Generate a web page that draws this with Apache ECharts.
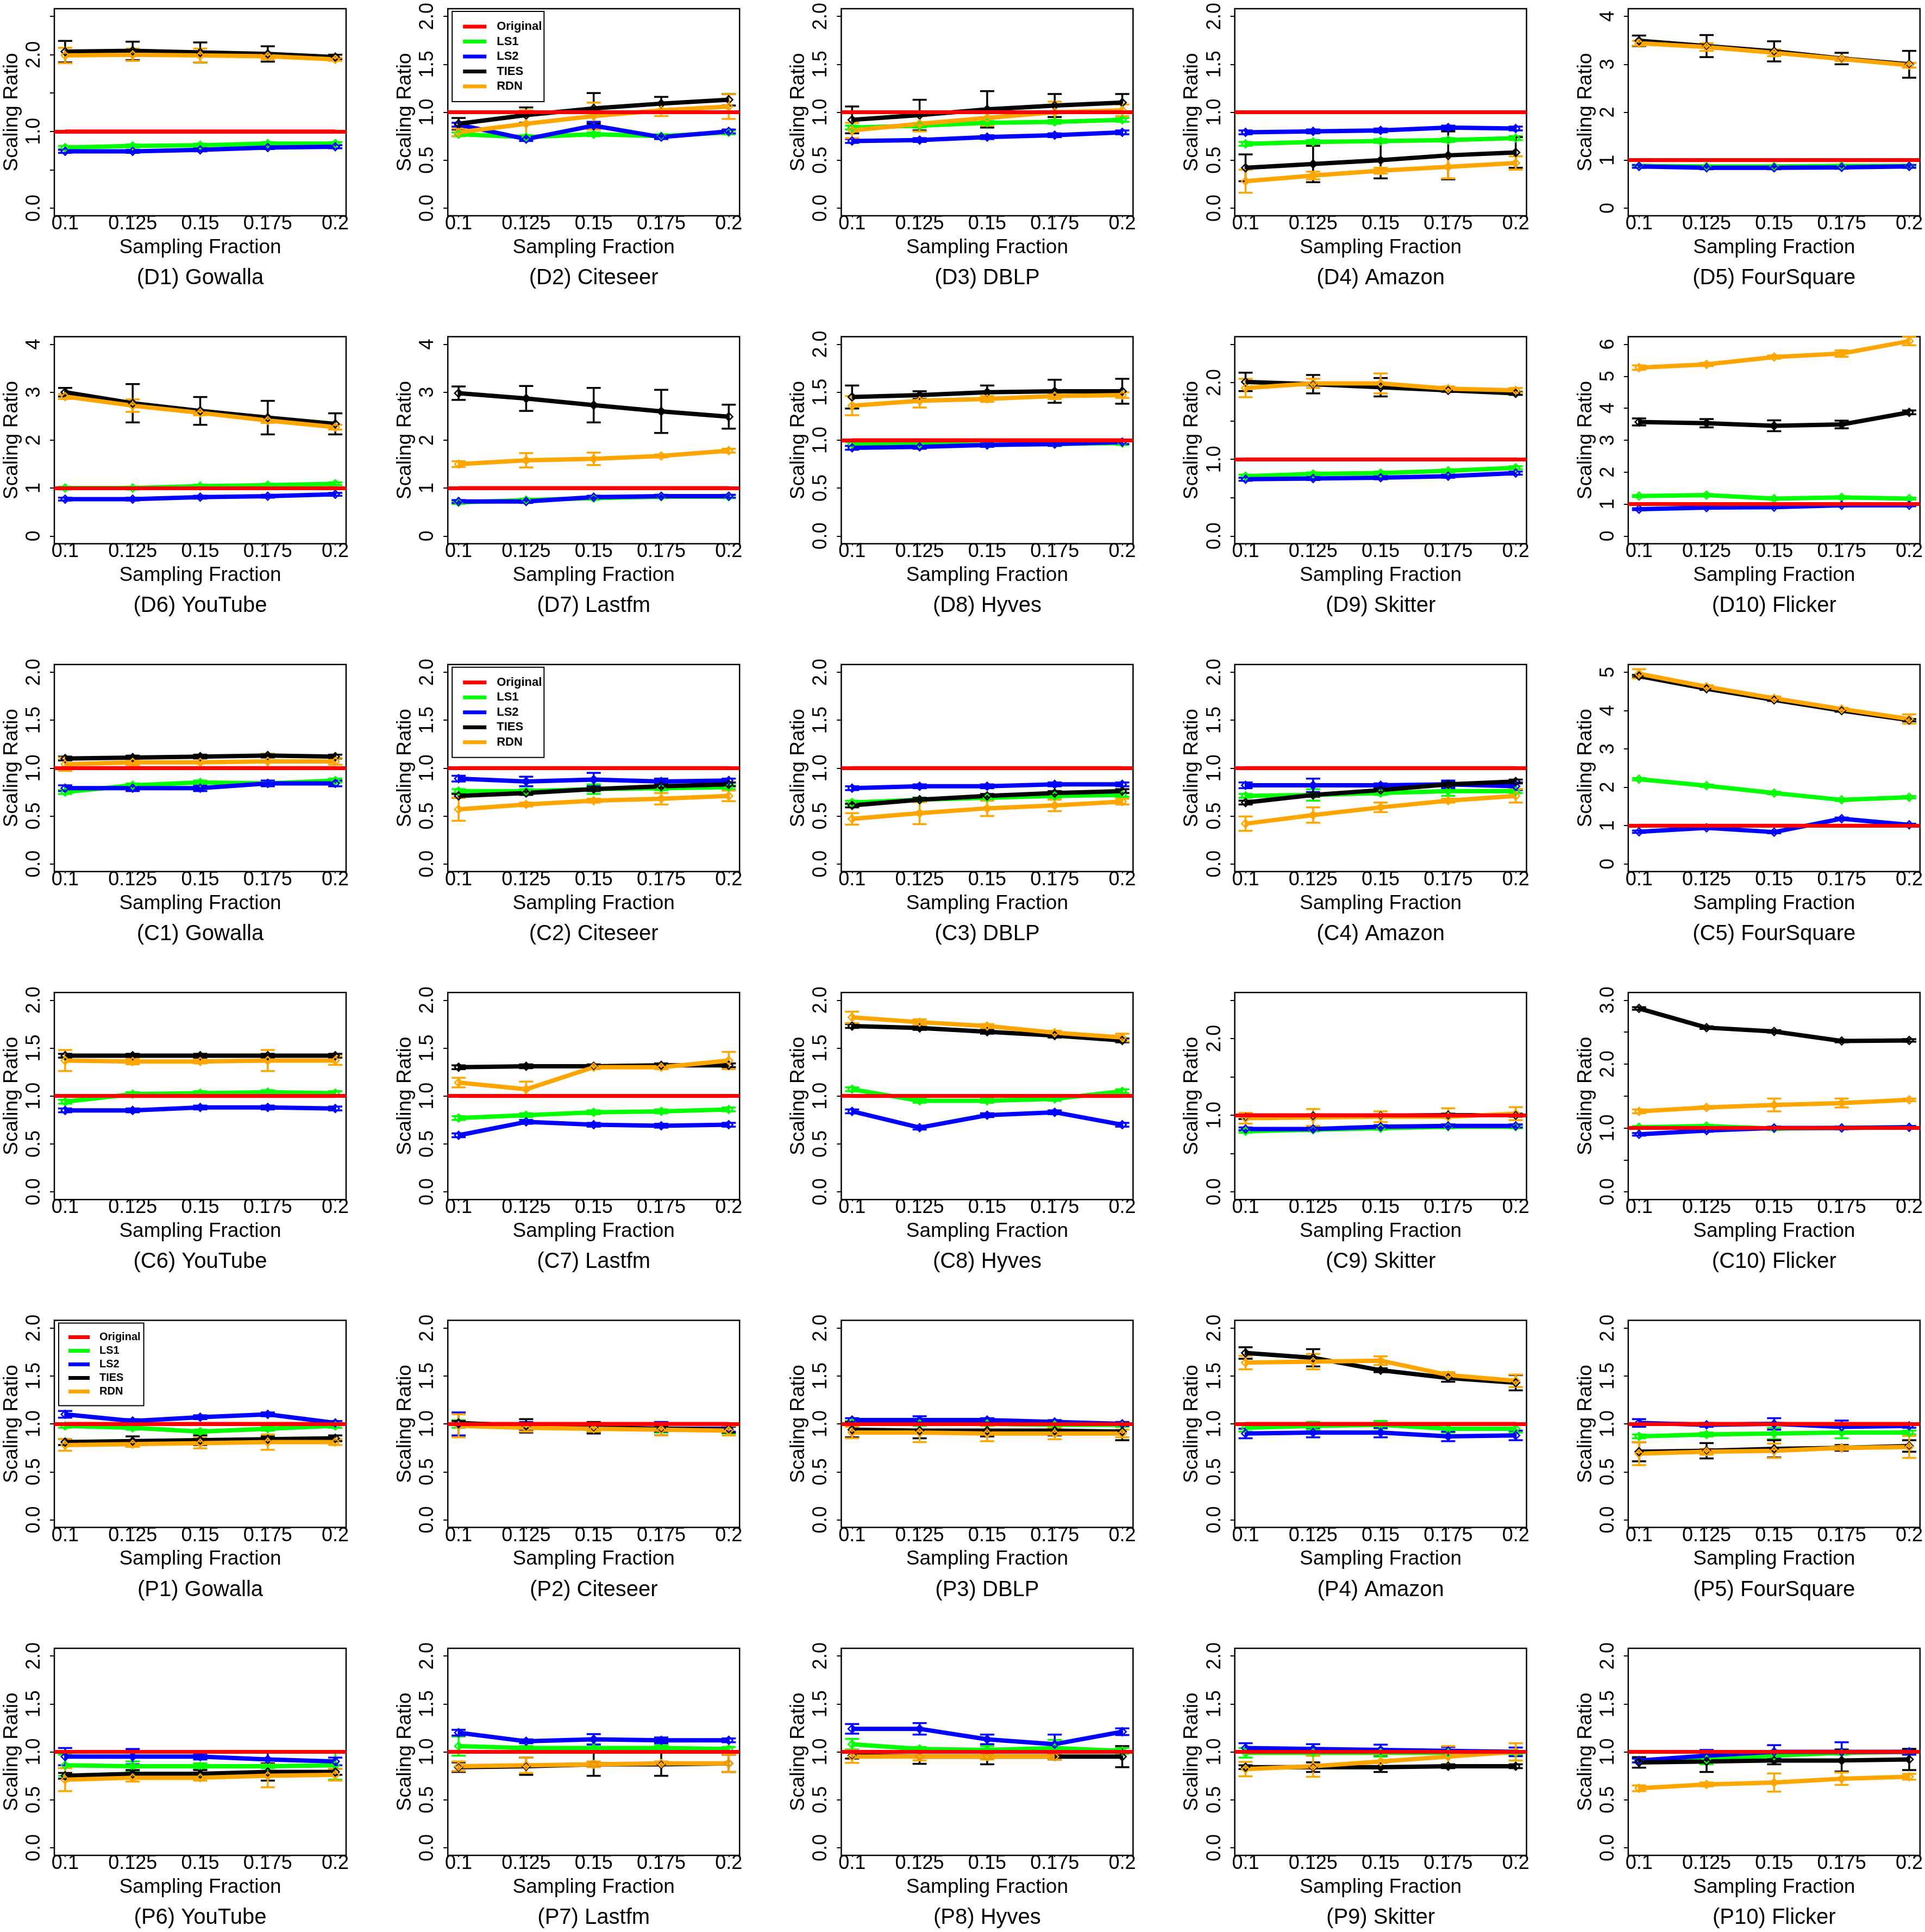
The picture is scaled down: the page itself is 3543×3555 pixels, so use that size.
<!DOCTYPE html>
<html><head><meta charset="utf-8">
<script src="https://cdn.jsdelivr.net/npm/echarts@6/dist/echarts.min.js"></script>
<style>html,body{margin:0;padding:0;background:#fff}#c{width:3543px;height:3555px}</style>
</head><body><div id="c"></div>
<script>
// ---------------- DATA ----------------
const X = [0.1, 0.125, 0.15, 0.175, 0.2];
const X_TICK_LABELS = ['0.1', '0.125', '0.15', '0.175', '0.2'];
const SERIES_NAMES = ['Original', 'LS1', 'LS2', 'TIES', 'RDN'];
const PANEL_TITLES = [
  '(D1) Gowalla','(D2) Citeseer','(D3) DBLP','(D4) Amazon','(D5) FourSquare',
  '(D6) YouTube','(D7) Lastfm','(D8) Hyves','(D9) Skitter','(D10) Flicker',
  '(C1) Gowalla','(C2) Citeseer','(C3) DBLP','(C4) Amazon','(C5) FourSquare',
  '(C6) YouTube','(C7) Lastfm','(C8) Hyves','(C9) Skitter','(C10) Flicker',
  '(P1) Gowalla','(P2) Citeseer','(P3) DBLP','(P4) Amazon','(P5) FourSquare',
  '(P6) YouTube','(P7) Lastfm','(P8) Hyves','(P9) Skitter','(P10) Flicker'
];
const Y_MAX = [2.5,2,2,2,4, 4,4,2,2.5,6, 2,2,2,2,5, 2,2,2,2.5,3, 2,2,2,2,2, 2,2,2,2,2];
const Y_STEP = [0.5,0.5,0.5,0.5,1, 1,1,0.5,0.5,1, 0.5,0.5,0.5,0.5,1, 0.5,0.5,0.5,0.5,0.5, 0.5,0.5,0.5,0.5,0.5, 0.5,0.5,0.5,0.5,0.5];
const L05 = ['0.0','0.5','1.0','1.5','2.0'];
const Y_TICK_LABELS = [
  ['0.0','1.0','2.0'], L05, L05, L05, ['0','1','2','3','4'],
  ['0','1','2','3','4'], ['0','1','2','3','4'], L05, ['0.0','1.0','2.0'], ['0','1','2','3','4','5','6'],
  L05, L05, L05, L05, ['0','1','2','3','4','5'],
  L05, L05, L05, ['0.0','1.0','2.0'], ['0.0','1.0','2.0','3.0'],
  L05, L05, L05, L05, L05,
  L05, L05, L05, L05, L05
];
const ORIGINAL = [1, 1, 1, 1, 1];

const LS1 = [
  [0.79,0.81,0.82,0.84,0.84],[0.77,0.74,0.77,0.75,0.79],[0.84,0.86,0.89,0.90,0.92],[0.67,0.69,0.70,0.71,0.73],[0.88,0.87,0.87,0.88,0.88],
  [1.00,1.00,1.04,1.06,1.09],[0.70,0.75,0.79,0.82,0.82],[0.96,0.96,0.95,0.96,0.97],[0.78,0.81,0.82,0.85,0.89],[1.25,1.28,1.17,1.21,1.17],
  [0.75,0.82,0.85,0.84,0.87],[0.76,0.76,0.78,0.79,0.80],[0.64,0.67,0.69,0.71,0.72],[0.71,0.72,0.74,0.76,0.76],[2.21,2.04,1.85,1.67,1.74],
  [0.94,1.02,1.03,1.04,1.03],[0.77,0.80,0.83,0.84,0.86],[1.07,0.95,0.95,0.97,1.05],[0.79,0.81,0.83,0.85,0.85],[1.01,1.03,0.99,1.00,1.01],
  [0.98,0.96,0.92,0.95,0.98],[1.00,0.98,0.95,0.95,0.94],[1.01,1.00,1.00,0.99,0.99],[0.96,0.98,0.99,0.95,0.95],[0.87,0.89,0.90,0.91,0.91],
  [0.86,0.85,0.85,0.85,0.86],[1.06,1.04,1.04,1.04,1.03],[1.08,1.03,1.02,1.04,1.01],[0.99,0.99,0.99,0.99,0.99],[0.91,0.92,0.96,0.99,1.00]
];
const LS1_ERR = [
  [.02,.02,.02,.02,.02],[.02,.02,.02,.02,.02],[.02,.02,.02,.02,.02],[.02,.02,.02,.02,.02],[.02,.02,.02,.02,.02],
  [.03,.03,.03,.03,.03],[.03,.03,.03,.03,.03],[.02,.02,.02,.02,.02],[.02,.02,.02,.02,.02],[.03,.03,.03,.03,.03],
  [.02,.02,.02,.02,.02],[.02,.02,.05,.02,.02],[.02,.02,.02,.02,.02],[.02,.06,.02,.05,.02],[.03,.03,.03,.03,.03],
  [.02,.02,.02,.02,.02],[.02,.02,.02,.02,.02],[.02,.02,.02,.02,.02],[.02,.02,.02,.02,.02],[.02,.02,.02,.02,.02],
  [.02,.02,.02,.02,.02],[.04,.04,.04,.04,.04],[.02,.02,.02,.02,.02],[.04,.04,.04,.04,.04],[.02,.02,.06,.06,.02],
  [.11,.05,.03,.02,.15],[.10,.02,.04,.03,.02],[.055,.02,.04,.085,.03],[.05,.03,.04,.02,.02],[.02,.05,.02,.02,.02]
];
const LS2 = [
  [0.74,0.74,0.76,0.79,0.80],[0.87,0.72,0.86,0.74,0.80],[0.70,0.71,0.74,0.76,0.79],[0.79,0.80,0.81,0.84,0.83],[0.87,0.84,0.84,0.85,0.87],
  [0.77,0.77,0.81,0.83,0.87],[0.72,0.72,0.81,0.83,0.83],[0.92,0.93,0.95,0.96,0.98],[0.74,0.75,0.76,0.78,0.82],[0.84,0.89,0.90,0.96,0.96],
  [0.79,0.79,0.79,0.84,0.84],[0.89,0.86,0.88,0.86,0.87],[0.79,0.81,0.81,0.83,0.83],[0.82,0.82,0.82,0.83,0.81],[0.84,0.94,0.83,1.18,1.02],
  [0.85,0.85,0.88,0.88,0.87],[0.59,0.73,0.70,0.69,0.70],[0.84,0.67,0.80,0.83,0.70],[0.82,0.82,0.85,0.86,0.86],[0.90,0.96,1.00,1.00,1.01],
  [1.10,1.03,1.07,1.10,1.01],[1.00,0.98,0.96,0.95,0.95],[1.04,1.04,1.04,1.02,1.00],[0.90,0.91,0.91,0.87,0.88],[1.01,0.99,1.00,0.97,0.98],
  [0.95,0.95,0.95,0.92,0.90],[1.20,1.11,1.13,1.12,1.12],[1.24,1.24,1.13,1.08,1.21],[1.04,1.03,1.02,1.01,1.00],[0.91,0.96,1.00,1.00,1.00]
];
const LS2_ERR = [
  [.02,.02,.02,.02,.02],[.02,.02,.04,.02,.02],[.02,.02,.02,.02,.02],[.02,.02,.02,.02,.02],[.03,.03,.03,.03,.03],
  [.03,.03,.03,.03,.03],[.03,.03,.03,.03,.03],[.02,.02,.02,.02,.02],[.02,.02,.02,.02,.02],[.03,.03,.03,.03,.03],
  [.03,.03,.03,.03,.03],[.03,.05,.07,.03,.02],[.02,.02,.02,.02,.02],[.03,.07,.02,.04,.04],[.03,.03,.03,.03,.03],
  [.02,.02,.02,.02,.02],[.02,.02,.02,.02,.02],[.02,.02,.02,.02,.02],[.02,.02,.02,.02,.02],[.02,.02,.02,.02,.02],
  [.035,.02,.02,.02,.02],[.12,.04,.03,.07,.03],[.02,.04,.02,.02,.02],[.05,.05,.05,.05,.05],[.04,.02,.06,.065,.02],
  [.09,.08,.03,.075,.04],[.03,.02,.055,.03,.02],[.05,.06,.05,.10,.035],[.05,.05,.055,.04,.045],[.02,.06,.07,.10,.03]
];
const TIES = [
  [2.04,2.05,2.03,2.01,1.97],[0.88,0.97,1.04,1.09,1.13],[0.92,0.97,1.03,1.07,1.10],[0.42,0.46,0.50,0.55,0.58],[3.49,3.38,3.27,3.12,3.00],
  [3.00,2.77,2.61,2.47,2.34],[2.98,2.87,2.73,2.60,2.49],[1.45,1.47,1.50,1.51,1.51],[2.01,1.98,1.94,1.90,1.86],[3.57,3.53,3.45,3.49,3.87],
  [1.10,1.11,1.12,1.13,1.12],[0.71,0.74,0.78,0.81,0.83],[0.61,0.67,0.71,0.74,0.76],[0.64,0.72,0.77,0.83,0.86],[4.90,4.57,4.28,4.00,3.75],
  [1.42,1.42,1.42,1.42,1.42],[1.30,1.31,1.31,1.32,1.32],[1.73,1.71,1.67,1.63,1.58],[0.97,0.99,0.99,1.00,1.00],[2.87,2.57,2.51,2.36,2.37],
  [0.81,0.82,0.83,0.84,0.85],[1.01,0.98,0.96,0.95,0.94],[0.94,0.93,0.93,0.93,0.92],[1.74,1.69,1.56,1.48,1.43],[0.71,0.72,0.74,0.75,0.77],
  [0.75,0.77,0.77,0.79,0.79],[0.84,0.85,0.87,0.87,0.88],[0.96,0.95,0.95,0.95,0.95],[0.84,0.84,0.84,0.85,0.85],[0.89,0.90,0.91,0.91,0.92]
];
const TIES_ERR = [
  [.14,.12,.13,.10,.03],[.06,.08,.16,.07,.06],[.14,.16,.19,.12,.09],[.14,.19,.19,.25,.16],[.11,.23,.21,.12,.28],
  [.09,.40,.29,.35,.22],[.14,.26,.36,.45,.25],[.12,.04,.07,.12,.13],[.12,.12,.12,.02,.02],[.11,.13,.17,.12,.06],
  [.02,.02,.02,.02,.02],[.02,.02,.02,.02,.02],[.02,.02,.02,.02,.02],[.02,.02,.02,.02,.02],[.03,.03,.03,.03,.03],
  [.02,.02,.02,.02,.02],[.02,.02,.02,.02,.02],[.02,.02,.02,.02,.02],[.02,.02,.02,.02,.02],[.02,.02,.02,.02,.02],
  [.03,.05,.05,.03,.03],[.02,.07,.06,.03,.03],[.08,.08,.06,.05,.09],[.06,.09,.02,.04,.08],[.10,.08,.09,.03,.06],
  [.03,.04,.04,.09,.03],[.05,.09,.12,.12,.09],[.03,.075,.08,.03,.11],[.02,.05,.05,.02,.02],[.055,.11,.04,.115,.11]
];
const RDN = [
  [1.99,2.00,1.99,1.98,1.94],[0.79,0.88,0.96,1.02,1.06],[0.81,0.88,0.94,1.00,1.02],[0.28,0.34,0.39,0.43,0.47],[3.44,3.36,3.24,3.11,2.98],
  [2.91,2.72,2.57,2.41,2.27],[1.50,1.58,1.61,1.67,1.78],[1.36,1.41,1.43,1.46,1.47],[1.93,1.99,1.99,1.92,1.90],[5.27,5.37,5.60,5.71,6.10],
  [1.04,1.06,1.06,1.07,1.07],[0.57,0.62,0.66,0.68,0.71],[0.47,0.53,0.58,0.61,0.65],[0.42,0.51,0.59,0.66,0.71],[4.96,4.62,4.32,4.04,3.78],
  [1.37,1.36,1.36,1.37,1.37],[1.14,1.07,1.30,1.30,1.37],[1.82,1.77,1.73,1.66,1.61],[0.96,0.97,0.98,0.98,1.02],[1.26,1.32,1.36,1.39,1.44],
  [0.78,0.79,0.80,0.81,0.81],[0.98,0.96,0.95,0.94,0.93],[0.91,0.91,0.90,0.90,0.90],[1.64,1.65,1.66,1.51,1.45],[0.69,0.71,0.72,0.75,0.76],
  [0.71,0.73,0.73,0.75,0.76],[0.85,0.86,0.87,0.88,0.88],[0.95,0.95,0.95,0.95,null],[0.82,0.85,0.90,0.95,1.00],[0.62,0.66,0.68,0.72,0.74]
];
const RDN_ERR = [
  [.10,.08,.09,.04,.02],[.04,.14,.14,.06,.13],[.08,.08,.08,.11,.06],[.12,.04,.03,.12,.07],[.05,.08,.07,.04,.05],
  [.05,.13,.05,.05,.05],[.06,.15,.13,.03,.04],[.10,.07,.03,.03,.03],[.12,.06,.13,.03,.03],[.07,.05,.05,.10,.13],
  [.07,.03,.055,.08,.035],[.12,.02,.02,.06,.055],[.06,.115,.08,.06,.03],[.075,.08,.05,.02,.07],[.12,.04,.05,.03,.12],
  [.11,.03,.02,.11,.045],[.05,.08,.02,.02,.09],[.06,.03,.02,.02,.04],[.07,.11,.07,.11,.085],[.03,.02,.10,.07,.02],
  [.06,.03,.055,.08,.03],[.12,.04,.03,.06,.05],[.06,.10,.08,.06,.04],[.07,.08,.045,.03,.065],[.12,.03,.075,.02,.115],
  [.12,.04,.03,.12,.06],[.05,.08,.03,.02,.09],[.065,.04,.03,.03,null],[.075,.11,.07,.11,.09],[.03,.02,.095,.065,.03]
];
const LEGEND_PANELS = [1, 11, 20];

// ---------------- LAYOUT / STYLE ----------------
const FONT = '"Liberation Sans", Arial, Helvetica, sans-serif';
const COLORS = { Original: '#ff0000', LS1: '#00ff00', LS2: '#0000ff', TIES: '#000000', RDN: '#ffa500' };
const GRID_LEFT0 = 100, COL_STEP = 724.2, GRID_W = 537;
const GRID_TOP0 = 16, ROW_STEP = 603.4, GRID_H = 381;
const DIAMOND = 'path://M0,-10L10,0L0,10L-10,0Z M0,-6L-6,0L0,6L6,0Z';
const CAP = 13;

const grids = [], xAxes = [], yAxes = [], series = [], graphics = [], legends = [];

function errRender(color) {
  return function (params, api) {
    const x = api.value(0);
    const lo = api.coord([x, api.value(1)]);
    const hi = api.coord([x, api.value(2)]);
    const st = { stroke: color, lineWidth: 3.5 };
    return { type: 'group', children: [
      { type: 'line', shape: { x1: lo[0], y1: lo[1], x2: hi[0], y2: hi[1] }, style: st },
      { type: 'line', shape: { x1: lo[0] - CAP, y1: lo[1], x2: lo[0] + CAP, y2: lo[1] }, style: st },
      { type: 'line', shape: { x1: hi[0] - CAP, y1: hi[1], x2: hi[0] + CAP, y2: hi[1] }, style: st }
    ]};
  };
}

const SERIES_DATA = { LS1: [LS1, LS1_ERR], LS2: [LS2, LS2_ERR], TIES: [TIES, TIES_ERR], RDN: [RDN, RDN_ERR] };

for (let p = 0; p < 30; p++) {
  const r = Math.floor(p / 5), c = p % 5;
  const left = GRID_LEFT0 + c * COL_STEP, top = GRID_TOP0 + r * ROW_STEP;
  grids.push({ left, top, width: GRID_W, height: GRID_H, show: true, borderColor: '#000', borderWidth: 2.5, backgroundColor: 'transparent' });

  xAxes.push({
    type: 'value', gridIndex: p, min: 0.096, max: 0.204,
    axisLine: { show: false, onZero: false }, splitLine: { show: false },
    axisTick: { show: true, customValues: X, length: 3, lineStyle: { color: '#000', width: 2 } },
    axisLabel: { customValues: X, margin: -3, fontSize: 36, fontFamily: FONT, color: '#000',
      formatter: v => { const k = X.findIndex(u => Math.abs(u - v) < 1e-9); return k >= 0 ? X_TICK_LABELS[k] : ''; } },
    name: 'Sampling Fraction', nameLocation: 'middle', nameGap: 40,
    nameTextStyle: { fontSize: 37, fontFamily: FONT, color: '#000' }
  });

  const ticks = [];
  for (let t = 0; t <= Y_MAX[p] + 1e-9; t += Y_STEP[p]) ticks.push(Math.round(t * 1000) / 1000);
  const labs = Y_TICK_LABELS[p];
  const labVals = labs.map(Number);
  yAxes.push({
    type: 'value', gridIndex: p, min: -0.04 * Y_MAX[p], max: 1.04 * Y_MAX[p],
    axisLine: { show: false, onZero: false }, splitLine: { show: false },
    axisTick: { show: true, customValues: ticks, length: 8, lineStyle: { color: '#000', width: 2 } },
    axisLabel: { customValues: labVals, rotate: 90, margin: 19, fontSize: 36, fontFamily: FONT, color: '#000',
      formatter: v => { const k = labVals.findIndex(u => Math.abs(u - v) < 1e-6); return k >= 0 ? labs[k] : ''; } },
    name: 'Scaling Ratio', nameLocation: 'middle', nameGap: 60, nameRotate: 90,
    nameTextStyle: { fontSize: 37, fontFamily: FONT, color: '#000' }
  });

  // Original (reference line at 1)
  series.push({
    type: 'line', name: 'Original', xAxisIndex: p, yAxisIndex: p,
    data: X.map((x, i) => [x, ORIGINAL[i]]), symbol: 'none',
    lineStyle: { color: COLORS.Original, width: 7 }, itemStyle: { color: COLORS.Original },
    silent: true, animation: false,
    markLine: { silent: true, symbol: ['none', 'none'], label: { show: false },
      lineStyle: { color: COLORS.Original, width: 7, type: 'solid' },
      emphasis: { disabled: true }, data: [{ yAxis: ORIGINAL[0] }] }
  });

  ['LS1', 'LS2', 'TIES', 'RDN'].forEach(name => {
    const vals = SERIES_DATA[name][0][p], errs = SERIES_DATA[name][1][p];
    const col = COLORS[name];
    const pts = [], ebs = [];
    X.forEach((x, i) => {
      if (vals[i] == null) return;
      pts.push([x, vals[i]]);
      ebs.push([x, vals[i] - errs[i], vals[i] + errs[i]]);
    });
    series.push({
      type: 'line', name, xAxisIndex: p, yAxisIndex: p, data: pts,
      symbol: DIAMOND, symbolSize: 18, showSymbol: true,
      lineStyle: { color: col, width: 8 }, itemStyle: { color: col, borderWidth: 0 },
      silent: true, animation: false
    });
    series.push({
      type: 'custom', name: name + ' err', xAxisIndex: p, yAxisIndex: p, data: ebs,
      encode: { x: 0, y: [1, 2] }, renderItem: errRender(col), silent: true, animation: false
    });
  });

  graphics.push({
    type: 'text', x: left + GRID_W / 2, y: top + GRID_H + 115, silent: true,
    style: { text: PANEL_TITLES[p], fontSize: 40, fontFamily: FONT, fill: '#000', align: 'center', verticalAlign: 'middle' }
  });

  const li = LEGEND_PANELS.indexOf(p);
  if (li >= 0) {
    const small = (li === 2);
    legends.push({
      show: true, orient: 'vertical', left: left + 8, top: top + 5,
      data: SERIES_NAMES, icon: 'rect',
      itemWidth: small ? 39 : 43, itemHeight: 7, itemGap: small ? 5 : 5.5,
      padding: small ? [16, 6, 16, 18] : [17, 4, 17, 20],
      borderColor: '#000', borderWidth: 2, backgroundColor: '#fff', selectedMode: false,
      textStyle: { fontSize: small ? 20 : 22, fontWeight: 'bold', fontFamily: FONT, color: '#000', padding: [0, 0, 0, small ? 13 : 14] }
    });
  }
}

const chart = echarts.init(document.getElementById('c'), null, { renderer: 'canvas', width: 3543, height: 3555 });
chart.setOption({
  backgroundColor: '#ffffff',
  animation: false,
  grid: grids, xAxis: xAxes, yAxis: yAxes, series,
  legend: legends,
  graphic: { elements: graphics }
});
</script></body></html>
